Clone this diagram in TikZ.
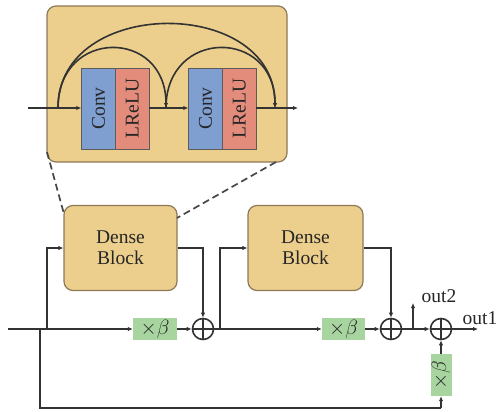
\documentclass[tikz,border=0pt]{standalone}
\usepackage{fontspec}
\setmainfont{Liberation Serif}
\usetikzlibrary{arrows.meta,calc}
\definecolor{tan}{HTML}{EDCF8D}
\definecolor{tanedge}{HTML}{8C7A58}
\definecolor{cblue}{HTML}{7F9FD0}
\definecolor{cred}{HTML}{E38C7C}
\definecolor{cgreen}{HTML}{A8D4A0}
\definecolor{ln}{HTML}{333333}
\begin{document}
\begin{tikzpicture}[x=1pt,y=-1pt,
  every node/.style={font=\fontsize{19.5}{22}\selectfont, text=black!85},
  line/.style={draw=ln, line width=1.6pt},
  arr/.style={line, -{Latex[length=5pt,width=4.5pt]}},
  tanbox/.style={draw=tanedge, line width=1.2pt, fill=tan, rounded corners=9pt, inner sep=0pt},
  layer/.style={draw=ln!80, line width=0.9pt, inner sep=0pt, minimum width=33.5pt, minimum height=81pt},
  betabox/.style={fill=cgreen, inner sep=0pt, font=\fontsize{20}{22}\selectfont},
  sumnode/.style={circle, draw=ln, line width=1.6pt, minimum size=21pt, inner sep=0pt,
     path picture={\draw[ln, line width=1.6pt] (path picture bounding box.north) -- (path picture bounding box.south)
       (path picture bounding box.west) -- (path picture bounding box.east);}},
  dash/.style={}, 
  lbl/.style={inner sep=0pt}
]
\useasboundingbox (0,0) rectangle (498,412);

% ---------- inset ----------
\node[tanbox, minimum width=240pt, minimum height=156pt] (inset) at (167,84) {};
\node[layer, fill=cblue] (conv1) at (98.5,108.5) {\rotatebox{90}{Conv}};
\node[layer, fill=cred] (lrelu1) at (132.25,108.5) {\rotatebox{90}{LReLU}};
\node[layer, fill=cblue] (conv2) at (205.5,108.5) {\rotatebox{90}{Conv}};
\node[layer, fill=cred] (lrelu2) at (239.25,108.5) {\rotatebox{90}{LReLU}};

\coordinate (iin) at (28,108);
\coordinate (iout) at (298,108);
\coordinate (a0) at (58,108);
\coordinate (a1) at (166,108);
\coordinate (a2) at (275,108);

\draw[arr] (iin) -- (iin -| conv1.west);
\draw[arr] (lrelu1.east |- iin) -- (conv2.west |- iin);
\draw[arr] (lrelu2.east |- iin) -- (iout);
\draw[arr] (a0) .. controls +(0,-112) and +(0,-112) .. (a2);
\draw[arr] (a0) .. controls +(0,-80) and +(0,-80) .. (a1);
\draw[arr] (a1) .. controls +(0,-80) and +(0,-80) .. (a2);

% ---------- dense blocks ----------
\node[tanbox, minimum width=113pt, minimum height=85pt, align=center] (db1) at (120.5,248) {Dense\\[-1pt]Block};
\node[tanbox, minimum width=115pt, minimum height=85pt, align=center] (db2) at (305.5,248) {Dense\\[-1pt]Block};

\coordinate (d1a) at (47,152);
\coordinate (d1b) at (64,214);
\coordinate (d2a) at (276,162);
\coordinate (d2b) at (177,218);
\draw[draw=ln!90, line width=1.7pt, dash pattern=on 7pt off 4pt] (d1a) -- (d1b);
\draw[draw=ln!90, line width=1.7pt, dash pattern=on 7pt off 4pt] (d2a) -- (d2b);

% ---------- main path ----------
\node[betabox, minimum width=44pt, minimum height=22pt] (b1) at (155,329) {$\times\beta$};
\node[betabox, minimum width=43pt, minimum height=22pt] (b2) at (343.5,329) {$\times\beta$};
\node[betabox, minimum width=21pt, minimum height=42pt] (b3) at (441,375) {\rotatebox{90}{$\times\beta$}};
\node[sumnode] (c1) at (203,329) {};
\node[sumnode] (c2) at (391,329) {};
\node[sumnode] (c3) at (441,329) {};

\coordinate (in) at (8,329);
\coordinate (j1) at (40,329);
\coordinate (j1b) at (40,408);
\coordinate (j3b) at (441,408);
\coordinate (j2) at (47,329);
\coordinate (j3) at (220,329);
\coordinate (j4) at (413,329);
\coordinate (o2) at (413,303);
\coordinate (o1) at (478,329);

\draw[line] (in) -- (j2);
\draw[arr] (j2) -- (b1.west);
\draw[arr] (b1.east) -- (c1.west);
\draw[arr] (j2) |- (db1.west);
\draw[arr] (db1.east) -| (c1.north);
\draw[line] (c1.east) -- (j3);
\draw[arr] (j3) -- (b2.west);
\draw[arr] (j3) |- (db2.west);
\draw[arr] (b2.east) -- (c2.west);
\draw[arr] (db2.east) -| (c2.north);
\draw[line] (c2.east) -- (j4);
\draw[arr] (j4) -- (o2);
\draw[arr] (j4) -- (c3.west);
\draw[arr] (c3.east) -- (o1);
\draw[line] (j1) -- (j1b) -- (j3b);
\draw[arr] (j3b) -- (b3.south);
\draw[arr] (b3.north) -- (c3.south);

\node[lbl] (lo2) at (439,296) {out2};
\node[lbl] (lo1) at (480,318) {out1};
\end{tikzpicture}
\end{document}
